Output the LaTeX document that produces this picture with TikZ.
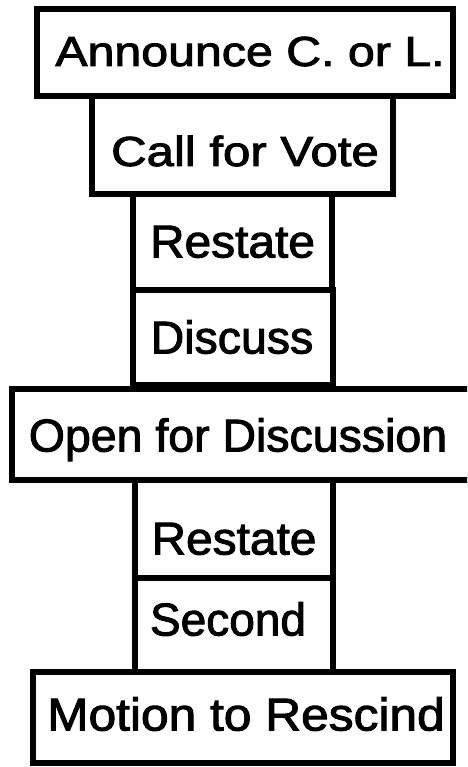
\documentclass[tikz,border=0pt]{standalone}
\usepackage{graphicx}
\usepackage{fontspec}
\setmainfont{Liberation Sans}[FakeBold=2]
\newcommand{\hs}[2]{\scalebox{#1}[1]{#2}}
\begin{document}
\begin{tikzpicture}[x=1pt,y=-1pt,
  box/.style={draw=black, line width=5.5pt, rectangle, inner sep=0pt},
  bigtxt/.style={inner sep=0pt, font=\fontsize{46}{50}\selectfont, text height=33pt, text depth=0pt},
  smalltxt/.style={inner sep=0pt, font=\fontsize{42}{46}\selectfont, text height=30pt, text depth=0pt}]
\clip (0,0) rectangle (467,767);
\fill[white] (0,0) rectangle (467,767);
% boxes
\node[box, minimum width=416pt, minimum height=87pt] (b1) at (245,52.5) {};
\node[box, minimum width=301pt, minimum height=98pt] (b2) at (242.5,145) {};
\node[box, minimum width=199pt, minimum height=96pt] (b3) at (232.5,242) {};
\node[box, minimum width=200pt, minimum height=95pt] (b4) at (233,337.5) {};
\node[box, minimum width=478pt, minimum height=91pt] (b5) at (251,434.5) {};
\node[box, minimum width=198pt, minimum height=98pt] (b6) at (234,529) {};
\node[box, minimum width=198pt, minimum height=94pt] (b7) at (234,625) {};
\node[box, minimum width=420pt, minimum height=91pt] (b8) at (243,717.5) {};
% texts
\node[smalltxt] (t1) at (250,51) {\hs{1.15}{Announce C. or L.}};
\node[smalltxt] (t2) at (245,151) {\hs{1.17}{Call for Vote}};
\node[bigtxt] (t3) at (232.5,241) {\hs{1.04}{Restate}};
\node[bigtxt] (t4) at (232,337) {\hs{1.01}{Discuss}};
\node[bigtxt] (t5) at (238,435) {\hs{1.01}{Open for Discussion}};
\node[bigtxt] (t6) at (234,538) {\hs{1.04}{Restate}};
\node[bigtxt] (t7) at (228,619) {\hs{1.0}{Second}};
\node[bigtxt] (t8) at (246,714) {\hs{1.08}{Motion to Rescind}};
\end{tikzpicture}
\end{document}
